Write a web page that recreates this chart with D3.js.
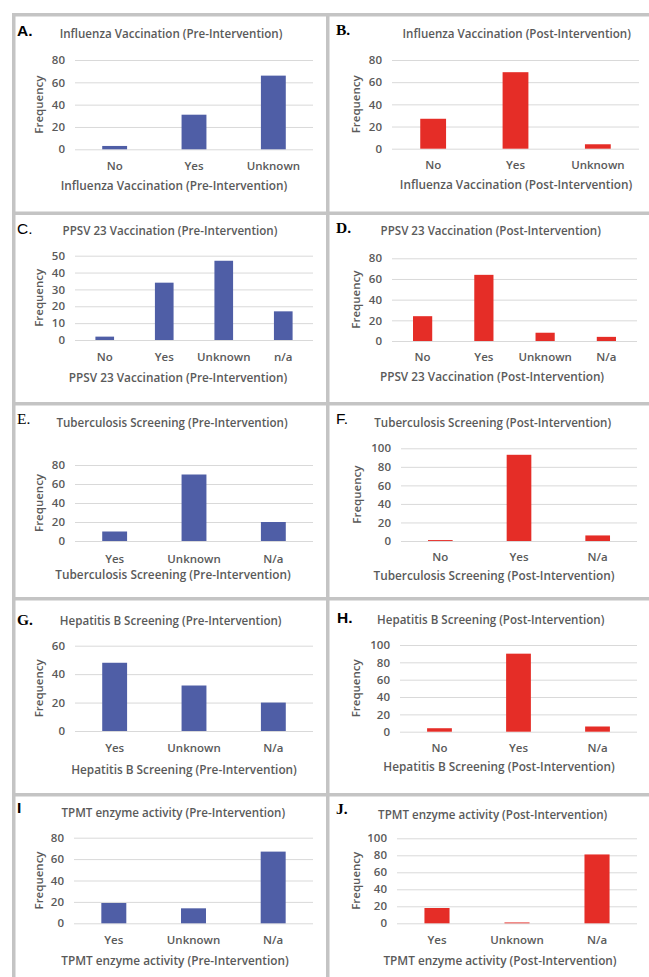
<!DOCTYPE html>
<html><head><meta charset="utf-8">
<script src="https://cdn.jsdelivr.net/npm/d3@7"></script>
<style>html,body{margin:0;padding:0;background:#fff;}svg{display:block;}</style>
</head><body>
<svg id="chart" width="649" height="977"></svg>
<script>
// ---------- DATA ----------
const panelLetters = ["A.", "B.", "C.", "D.", "E.", "F.", "G.", "H.", "I", "J."];
const panelTitles = [
  "Influenza Vaccination (Pre-Intervention)",
  "Influenza Vaccination (Post-Intervention)",
  "PPSV 23 Vaccination (Pre-Intervention)",
  "PPSV 23 Vaccination (Post-Intervention)",
  "Tuberculosis Screening (Pre-Intervention)",
  "Tuberculosis Screening (Post-Intervention)",
  "Hepatitis B Screening (Pre-Intervention)",
  "Hepatitis B Screening (Post-Intervention)",
  "TPMT enzyme activity (Pre-Intervention)",
  "TPMT enzyme activity (Post-Intervention)"
];
const categoriesA = ["No", "Yes", "Unknown"];
const valuesA = [3, 31, 66];
const categoriesB = ["No", "Yes", "Unknown"];
const valuesB = [27, 69, 4];
const categoriesC = ["No", "Yes", "Unknown", "n/a"];
const valuesC = [2, 34, 47, 17];
const categoriesD = ["No", "Yes", "Unknown", "N/a"];
const valuesD = [24, 64, 8, 4];
const categoriesE = ["Yes", "Unknown", "N/a"];
const valuesE = [10, 70, 20];
const categoriesF = ["No", "Yes", "N/a"];
const valuesF = [1, 93, 6];
const categoriesG = ["Yes", "Unknown", "N/a"];
const valuesG = [48, 32, 20];
const categoriesH = ["No", "Yes", "N/a"];
const valuesH = [4, 90, 6];
const categoriesI = ["Yes", "Unknown", "N/a"];
const valuesI = [19, 14, 67];
const categoriesJ = ["Yes", "Unknown", "N/a"];
const valuesJ = [18, 1, 81];
const ticks80 = [0, 20, 40, 60, 80];
const ticks50 = [0, 10, 20, 30, 40, 50];
const ticks60 = [0, 20, 40, 60];
const ticks100 = [0, 20, 40, 60, 80, 100];
const yAxisLabel = "Frequency";

const panelCategories = [categoriesA, categoriesB, categoriesC, categoriesD, categoriesE, categoriesF, categoriesG, categoriesH, categoriesI, categoriesJ];
const panelValues = [valuesA, valuesB, valuesC, valuesD, valuesE, valuesF, valuesG, valuesH, valuesI, valuesJ];
const panelTicks = [ticks80, ticks80, ticks50, ticks80, ticks80, ticks100, ticks60, ticks100, ticks80, ticks100];

// ---------- LAYOUT / STYLE ----------
const BLUE = "#4f5ea6", RED = "#e52d27";
const layout = [
  {x0:75, x1:313, yT:60,    y0:149.3, tx:171,   ty:38,  lx:17,  ly:36,  xl:170,   at:189.5, ax:174, fx:39,    serif:false, bold:true},
  {x0:392,x1:639, yT:60,    y0:148.7, tx:516.7, ty:38,  lx:336, ly:35,  xl:169,   at:188.5, ax:516, fx:355.7, serif:true,  bold:true},
  {x0:75, x1:313, yT:255.7, y0:340,   tx:170,   ty:235, lx:17,  ly:234, xl:360.5, at:381.5, ax:178, fx:39,    serif:false, bold:false},
  {x0:392,x1:637, yT:258.3, y0:341,   tx:490.7, ty:235, lx:336, ly:233, xl:360.5, at:381,   ax:492, fx:355.7, serif:true,  bold:true},
  {x0:75, x1:313, yT:465,   y0:541,   tx:172,   ty:427, lx:17,  ly:424, xl:563,   at:579,   ax:173, fx:39,    serif:true,  bold:false},
  {x0:401,x1:637, yT:448.3, y0:541,   tx:492.7, ty:427, lx:336, ly:424, xl:561,   at:580,   ax:494, fx:356.7, serif:false, bold:false},
  {x0:75, x1:313, yT:645.7, y0:731,   tx:170.7, ty:625, lx:17,  ly:625, xl:752,   at:774,   ax:184, fx:39,    serif:true,  bold:true},
  {x0:400,x1:637, yT:645,   y0:731.7, tx:490.7, ty:624, lx:337, ly:623, xl:752,   at:771,   ax:499, fx:355.7, serif:false, bold:true},
  {x0:74, x1:313, yT:837.7, y0:923.3, tx:173.3, ty:817, lx:17,  ly:813, xl:943.5, at:965,   ax:175, fx:39,    serif:false, bold:true},
  {x0:397,x1:637, yT:838.3, y0:923.3, tx:492.7, ty:819, lx:336, ly:814, xl:943.5, at:964.5, ax:500, fx:355.7, serif:true,  bold:true}
];
const FONT = "'Open Sans', 'Noto Sans', sans-serif";
const TEXT = "#5a5a5a";
const W = 600;

const svg = d3.select("#chart");

// frame lines
const frame = svg.append("g").attr("fill", "#c4c4c4");
[13, 211.5, 402, 597, 793].forEach(y => frame.append("rect").attr("x", 12).attr("y", y).attr("width", 637).attr("height", 3.5));
[12, 326].forEach(x => frame.append("rect").attr("x", x).attr("y", 13).attr("width", 3.5).attr("height", 964));

panelTitles.forEach((title, i) => {
  const L = layout[i];
  const cats = panelCategories[i], vals = panelValues[i], tks = panelTicks[i];
  const color = i % 2 === 0 ? BLUE : RED;
  const g = svg.append("g");

  const x = d3.scaleBand().domain(cats).range([L.x0, L.x1]).paddingInner(0.6865).paddingOuter(0.343);
  const y = d3.scaleLinear().domain([0, d3.max(tks)]).range([L.y0, L.yT]);

  // gridlines + tick labels via axis
  const yAxis = d3.axisLeft(y).tickValues(tks).tickSize(-(L.x1 - L.x0)).tickPadding(10).tickFormat(d3.format("d"));
  const ya = g.append("g").attr("transform", `translate(${L.x0},0)`).call(yAxis);
  ya.select(".domain").remove();
  ya.selectAll(".tick line").attr("stroke", "#d9d9d9").attr("stroke-width", 1);
  ya.selectAll(".tick text").attr("fill", TEXT).style("font-family", FONT).style("font-size", "11.5px")
    .style("font-weight", W).attr("x", -10);

  // bars
  g.selectAll("rect.bar").data(cats).enter().append("rect")
    .attr("class", "bar")
    .attr("x", d => x(d))
    .attr("width", x.bandwidth())
    .attr("y", (d, k) => y(vals[k]))
    .attr("height", (d, k) => y(0) - y(vals[k]))
    .attr("fill", color);

  // category labels via axis
  const xAxis = d3.axisBottom(x).tickSize(0).tickPadding(0);
  const xa = g.append("g").attr("transform", `translate(0,${L.xl})`).call(xAxis);
  xa.select(".domain").remove();
  xa.selectAll(".tick text").attr("fill", TEXT).attr("dy", 0).attr("y", 0)
    .style("font-family", FONT).style("font-size", "11.5px").style("font-weight", W);

  // chart title
  g.append("text").attr("x", L.tx).attr("y", L.ty).attr("text-anchor", "middle")
    .attr("fill", TEXT).style("font-family", FONT).style("font-size", "11.6px").style("font-weight", W).text(title);
  // axis title
  g.append("text").attr("x", L.ax).attr("y", L.at).attr("text-anchor", "middle")
    .attr("fill", TEXT).style("font-family", FONT).style("font-size", "11.8px").style("font-weight", W).text(title);
  // y label
  g.append("text").attr("transform", `translate(${L.fx + 4},${(L.yT + L.y0) / 2}) rotate(-90)`)
    .attr("text-anchor", "middle").attr("fill", TEXT)
    .style("font-family", FONT).style("font-size", "11.5px").style("font-weight", W).text(yAxisLabel);
  // panel letter
  g.append("text").attr("x", L.lx).attr("y", L.ly).attr("fill", "#000")
    .style("font-family", L.serif ? "'Liberation Serif', serif" : "'Liberation Sans', sans-serif")
    .style("font-size", "15.5px").style("font-weight", L.bold ? "bold" : "normal").text(panelLetters[i]);
});
</script>
</body></html>
